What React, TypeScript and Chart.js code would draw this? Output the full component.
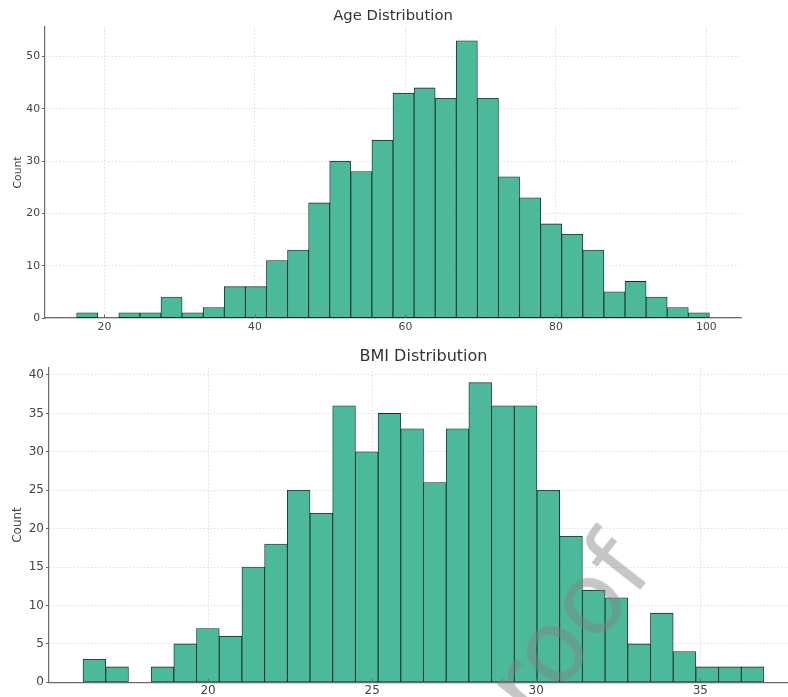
import React, { useEffect, useRef } from "react";
import { Chart, registerables } from "chart.js";

Chart.register(...registerables);

// ---------- Data ----------
const ageCounts = [1, 0, 1, 1, 4, 1, 2, 6, 6, 11, 13, 22, 30, 28, 34, 43, 44, 42, 53, 42, 27, 23, 18, 16, 13, 5, 7, 4, 2, 1];
const ageRangeMin = 16.3;
const ageRangeMax = 100.4;
const ageXTicks = [20, 40, 60, 80, 100];
const ageYTicks = [0, 10, 20, 30, 40, 50];

const bmiCounts = [3, 2, 0, 2, 5, 7, 6, 15, 18, 25, 22, 36, 30, 35, 33, 26, 33, 39, 36, 36, 25, 19, 12, 11, 5, 9, 4, 2, 2, 2];
const bmiRangeMin = 16.19;
const bmiRangeMax = 36.94;
const bmiXTicks = [20, 25, 30, 35];
const bmiYTicks = [0, 5, 10, 15, 20, 25, 30, 35, 40];

const FILL = "#4cb99a";
const EDGE = "#142c24";
const SPINE = "#6a6a6a";
const GRID = "#d6d6d6";
const TEXT = "#444444";
const FONT = "'DejaVu Sans', sans-serif";

type HistSpec = {
  title: string;
  counts: number[];
  lo: number;
  hi: number;
  xTicks: number[];
  yTicks: number[];
  width: number;
  height: number;
  yAxisWidth: number;
  xAxisHeight: number;
  rightPad: number;
  titleSize: number;
  titlePadTop: number;
  titlePadBottom: number;
  tickSize: number;
  xLabelPad: number;
  yLabelPadTop: number;
};

function makeConfig(s: HistSpec): any {
  const n = s.counts.length;
  const binW = (s.hi - s.lo) / n;
  const points = s.counts.map((c, i) => ({ x: s.lo + binW * (i + 0.5), y: c }));
  const margin = (s.hi - s.lo) * 0.05;
  const yMax = Math.max(...s.counts) * 1.05;

  const innerTicks = {
    id: "innerTicks",
    afterDatasetsDraw(chart: any) {
      const xs = chart.scales.x;
      const ctx = chart.ctx;
      const b = chart.chartArea.bottom;
      ctx.save();
      ctx.strokeStyle = SPINE;
      ctx.lineWidth = 1;
      xs.ticks.forEach((_t: any, i: number) => {
        const px = Math.round(xs.getPixelForTick(i)) + 0.5;
        ctx.beginPath();
        ctx.moveTo(px, b);
        ctx.lineTo(px, b - 3.5);
        ctx.stroke();
      });
      ctx.restore();
    },
  };

  return {
    type: "bar",
    data: {
      datasets: [
        {
          data: points,
          backgroundColor: FILL,
          borderColor: EDGE,
          borderWidth: 0.85,
          borderSkipped: false,
          barPercentage: 1,
          categoryPercentage: 1,
        },
      ],
    },
    plugins: [innerTicks],
    options: {
      responsive: false,
      animation: false,
      devicePixelRatio: 1,
      layout: { padding: { left: 0, right: s.rightPad, top: 0, bottom: 0 } },
      plugins: {
        legend: { display: false },
        tooltip: { enabled: false },
        title: {
          display: true,
          text: s.title,
          fullSize: false,
          color: "#333333",
          font: { family: FONT, size: s.titleSize, weight: "normal", lineHeight: 1.2 },
          padding: { top: s.titlePadTop, bottom: s.titlePadBottom },
        },
      },
      scales: {
        x: {
          type: "linear",
          offset: false,
          min: s.lo - margin,
          max: s.hi + margin,
          afterBuildTicks: (axis: any) => {
            axis.ticks = s.xTicks.map((v) => ({ value: v }));
          },
          afterFit: (axis: any) => {
            axis.height = s.xAxisHeight;
          },
          grid: {
            offset: false,
            color: GRID,
            lineWidth: 0.8,
            drawTicks: false,
          },
          border: { display: true, color: SPINE, width: 1.2, dash: [1.5, 2] },
          ticks: {
            color: TEXT,
            padding: s.xLabelPad,
            maxRotation: 0,
            autoSkip: false,
            font: { family: FONT, size: s.tickSize },
            callback: (v: any) => String(v),
          },
        },
        y: {
          type: "linear",
          min: 0,
          max: yMax,
          afterBuildTicks: (axis: any) => {
            axis.ticks = s.yTicks.map((v) => ({ value: v }));
          },
          afterFit: (axis: any) => {
            axis.width = s.yAxisWidth;
          },
          grid: {
            color: GRID,
            lineWidth: 0.8,
            drawTicks: true,
            tickLength: 3,
            tickColor: SPINE,
            tickWidth: 1,
          },
          border: { display: true, color: SPINE, width: 1.2, dash: [1.5, 2] },
          ticks: {
            color: TEXT,
            padding: 2,
            autoSkip: false,
            font: { family: FONT, size: s.tickSize },
            callback: (v: any) => String(v),
          },
          title: {
            display: true,
            text: "Count",
            color: TEXT,
            font: { family: FONT, size: s.tickSize, lineHeight: 1.2 },
            padding: { top: s.yLabelPadTop, bottom: 0 },
          },
        },
      },
    },
  };
}

const ageSpec: HistSpec = {
  title: "Age Distribution",
  counts: ageCounts,
  lo: ageRangeMin,
  hi: ageRangeMax,
  xTicks: ageXTicks,
  yTicks: ageYTicks,
  width: 788,
  height: 340,
  yAxisWidth: 45,
  xAxisHeight: 22,
  rightPad: 47,
  titleSize: 14.8,
  titlePadTop: 7.6,
  titlePadBottom: 1.6,
  tickSize: 10.8,
  xLabelPad: 3,
  yLabelPadTop: 11.8,
};

const bmiSpec: HistSpec = {
  title: "BMI Distribution",
  counts: bmiCounts,
  lo: bmiRangeMin,
  hi: bmiRangeMax,
  xTicks: bmiXTicks,
  yTicks: bmiYTicks,
  width: 810,
  height: 357,
  yAxisWidth: 49,
  xAxisHeight: 14.7,
  rightPad: 12,
  titleSize: 16,
  titlePadTop: 6.8,
  titlePadBottom: 1.7,
  tickSize: 12,
  xLabelPad: 1.5,
  yLabelPadTop: 11.1,
};

function Hist({ spec, top }: { spec: HistSpec; top: number }) {
  const ref = useRef<HTMLCanvasElement | null>(null);
  useEffect(() => {
    if (!ref.current) return;
    const chart = new Chart(ref.current, makeConfig(spec));
    return () => chart.destroy();
  }, [spec]);
  return (
    <canvas
      ref={ref}
      width={spec.width}
      height={spec.height}
      style={{ position: "absolute", left: 0, top, width: spec.width, height: spec.height, display: "block" }}
    />
  );
}

export default function App() {
  return (
    <div
      style={{
        position: "fixed",
        left: 0,
        top: 0,
        width: 788,
        height: 697,
        overflow: "hidden",
        background: "#ffffff",
      }}
    >
      <Hist spec={ageSpec} top={0} />
      <Hist spec={bmiSpec} top={340} />
      <div
        style={{
          position: "absolute",
          left: 568,
          top: 627,
          transform: "translate(-50%, -50%) rotate(-52deg)",
          font: "normal 100px 'DejaVu Sans', sans-serif",
          lineHeight: 1,
          color: "rgba(128,128,128,0.45)",
          whiteSpace: "nowrap",
          pointerEvents: "none",
        }}
      >
        roof
      </div>
    </div>
  );
}
